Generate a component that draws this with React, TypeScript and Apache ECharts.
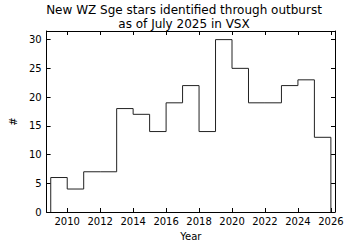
import React, { useEffect, useRef } from "react";
import * as echarts from "echarts";

const binEdges = [2009, 2010, 2011, 2012, 2013, 2014, 2015, 2016, 2017, 2018, 2019, 2020, 2021, 2022, 2023, 2024, 2025, 2026];
const counts = [6, 4, 7, 7, 18, 17, 14, 19, 22, 14, 30, 25, 19, 19, 22, 23, 13];
const xTicks = [2010, 2012, 2014, 2016, 2018, 2020, 2022, 2024, 2026];
const yTicks = [0, 5, 10, 15, 20, 25, 30];
const titleLines = ["New WZ Sge stars identified through outburst", "as of July 2025 in VSX"];

const FONT = "DejaVu Sans";

export default function App() {
  const ref = useRef<HTMLDivElement>(null);
  useEffect(() => {
    if (!ref.current) return;
    const chart = echarts.init(ref.current, null, { renderer: "svg" });
    const pts: [number, number][] = [[binEdges[0], 0]];
    counts.forEach((c, i) => pts.push([binEdges[i], c]));
    pts.push([binEdges[binEdges.length - 1], 0]);

    const xCommon = {
      type: "value" as const,
      min: 2008.75,
      max: 2026.25,
      splitLine: { show: false },
      axisLine: { onZero: false, lineStyle: { color: "#000", width: 1 } },
      axisTick: { inside: true, length: 4, customValues: xTicks, lineStyle: { color: "#000" } },
    };
    const yCommon = {
      type: "value" as const,
      min: 0,
      max: 31.5,
      splitLine: { show: false },
      axisLine: { onZero: false, lineStyle: { color: "#000", width: 1 } },
      axisTick: { inside: true, length: 4, customValues: yTicks, lineStyle: { color: "#000" } },
    };

    chart.setOption({
      animation: false,
      backgroundColor: "#fff",
      title: {
        text: titleLines.join("\n"),
        left: 184,
        top: 3,
        padding: 0,
        textAlign: "center",
        textStyle: { fontFamily: FONT, fontSize: 12, fontWeight: "normal", color: "#000", lineHeight: 14 },
      },
      grid: { left: 33, right: 14, top: 31, bottom: 30, containLabel: false },
      xAxis: [
        {
          ...xCommon,
          position: "bottom",
          name: "Year",
          nameLocation: "middle",
          nameGap: 19,
          nameTextStyle: { fontFamily: FONT, fontSize: 10, color: "#000" },
          axisLabel: { customValues: xTicks, margin: 4, fontFamily: FONT, fontSize: 10, color: "#000", formatter: (v: number) => String(v) },
        },
        { ...xCommon, position: "top", axisLabel: { show: false } },
      ],
      yAxis: [
        {
          ...yCommon,
          position: "left",
          name: "#",
          nameLocation: "middle",
          nameGap: 24,
          nameTextStyle: { fontFamily: FONT, fontSize: 10, color: "#000" },
          axisLabel: { customValues: yTicks, margin: 5, fontFamily: FONT, fontSize: 10, color: "#000" },
        },
        { ...yCommon, position: "right", axisLabel: { show: false } },
      ],
      series: [
        {
          type: "line",
          step: "end",
          data: pts,
          symbol: "none",
          xAxisIndex: 0,
          yAxisIndex: 0,
          lineStyle: { color: "#222", width: 1 },
          clip: true,
        },
      ],
    });
    return () => chart.dispose();
  }, []);
  return <div ref={ref} style={{ width: 349, height: 246, position: "fixed", left: 0, top: 0 }} />;
}
